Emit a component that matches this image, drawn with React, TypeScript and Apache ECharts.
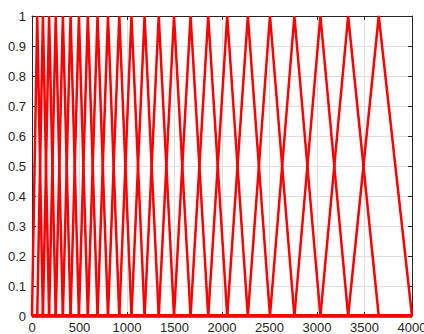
import React, { useEffect, useRef } from "react";
import * as echarts from "echarts";

// Filter band edges (Hz): filter i rises from edges[i], peaks at edges[i+1], falls to edges[i+2]
const bandEdges = [0, 55, 115, 180, 250, 325, 406, 494, 588, 690, 800, 919, 1047, 1185, 1334, 1495, 1669, 1855, 2055, 2272, 2505, 2762, 3036, 3328, 3650, 4000];
const peakValue = 1;
const xTicks = [0, 500, 1000, 1500, 2000, 2500, 3000, 3500, 4000];
const yTicks = [0, 0.1, 0.2, 0.3, 0.4, 0.5, 0.6, 0.7, 0.8, 0.9, 1];

export default function App() {
  const ref = useRef<HTMLDivElement>(null);
  useEffect(() => {
    if (!ref.current) return;
    const chart = echarts.init(ref.current, undefined, { renderer: "svg" });
    const xMin = xTicks[0];
    const xMax = xTicks[xTicks.length - 1];
    const yMin = yTicks[0];
    const yMax = yTicks[yTicks.length - 1];
    const series: any[] = [];
    for (let i = 0; i + 2 < bandEdges.length; i++) {
      const data: number[][] = [];
      if (bandEdges[i] > xMin) data.push([xMin, 0]);
      data.push([bandEdges[i], 0], [bandEdges[i + 1], peakValue], [bandEdges[i + 2], 0]);
      if (bandEdges[i + 2] < xMax) data.push([xMax, 0]);
      series.push({
        type: "line",
        data,
        symbol: "none",
        lineStyle: { color: "#ff0000", width: 2.5 },
        itemStyle: { color: "#ff0000" },
        z: 3,
      });
    }
    const font = { fontFamily: "Liberation Sans, Arial, sans-serif", fontSize: 13, color: "#262626" };
    const grid = { left: 32, top: 16, width: 380, height: 300, containLabel: false, outerBoundsMode: "none" };
    const axisLine = { show: true, onZero: false, lineStyle: { color: "#262626", width: 1 } };
    const axisTick = { show: true, inside: true, length: 4, lineStyle: { color: "#262626" } };
    chart.setOption({
      animation: false,
      grid,
      xAxis: [
        {
          type: "value",
          min: xMin,
          max: xMax,
          interval: 500,
          axisLine,
          axisTick,
          axisLabel: { ...font, margin: 5, formatter: (v: number) => String(v) },
          splitLine: { show: true, lineStyle: { color: "#dfdfdf", width: 1 } },
        },
        {
          type: "value",
          position: "top",
          min: xMin,
          max: xMax,
          interval: 500,
          axisLine,
          axisTick,
          axisLabel: { show: false },
          splitLine: { show: false },
        },
      ],
      yAxis: [
        {
          type: "value",
          min: yMin,
          max: yMax,
          interval: 0.1,
          axisLine,
          axisTick,
          axisLabel: { ...font, margin: 6, formatter: (v: number) => String(Math.round(v * 10) / 10) },
          splitLine: { show: true, lineStyle: { color: "#dfdfdf", width: 1 } },
        },
        {
          type: "value",
          position: "right",
          min: yMin,
          max: yMax,
          interval: 0.1,
          axisLine,
          axisTick,
          axisLabel: { show: false },
          splitLine: { show: false },
        },
      ],
      series,
    });
    return () => chart.dispose();
  }, []);
  return (
    <div
      ref={ref}
      style={{ position: "absolute", left: 0, top: 0, width: 424, height: 334, background: "#ffffff" }}
    />
  );
}
